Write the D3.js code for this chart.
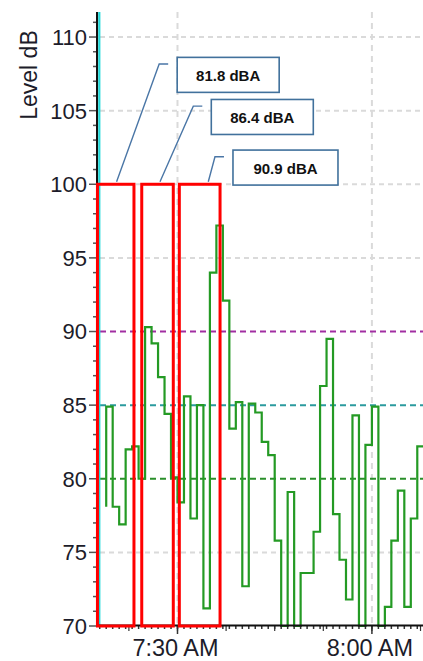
<!DOCTYPE html>
<html><head><meta charset="utf-8">
<script src="https://cdn.jsdelivr.net/npm/d3@7"></script>
<style>body{margin:0;background:#fff}svg{display:block}</style>
</head><body>
<script>
// ---- data ----
const times = ["7:19","7:20","7:21","7:22","7:23","7:24","7:25","7:26","7:27","7:28",
  "7:29","7:30","7:31","7:32","7:33","7:34","7:35","7:36","7:37","7:38",
  "7:39","7:40","7:41","7:42","7:43","7:44","7:45","7:46","7:47","7:48",
  "7:49","7:50","7:51","7:52","7:53","7:54","7:55","7:56","7:57","7:58",
  "7:59","8:00","8:01","8:02","8:03","8:04","8:05","8:06","8:07","8:08"];
const levels = [78.1,84.9,78.1,76.9,82.0,82.2,80.0,90.3,89.2,86.9,
  84.4,80.1,78.4,85.6,77.3,85.0,71.2,94.0,97.2,92.1,
  83.4,85.2,72.7,85.1,84.5,82.5,81.6,75.8,70.0,79.1,
  70.0,73.6,73.6,76.4,86.3,89.5,77.6,74.5,71.8,84.3,
  70.0,82.3,84.9,70.0,71.3,75.8,79.2,71.3,77.3,82.2];
const yTicks = [70,75,80,85,90,95,100,105,110];
const xTickTimes = ["7:30","8:00"];
const xTickLabels = ["7:30 AM","8:00 AM"];
const refLevels = [90,85,80];
const refColors = ["#a12ea1","#2b9a9e","#2a8f2a"];
const windowStarts = ["7:17:39","7:24:29","7:30:17"];
const windowEnds = ["7:23:17","7:29:21","7:36:34"];
const windowTop = 100, windowBottom = 70;
const avgLabels = ["81.8 dBA","86.4 dBA","90.9 dBA"];
const leaderAnchors = ["7:20:36","7:27:18","7:34:45"];

// ---- layout ----
const W = 423, H = 661;
const parse = s => { const p = s.split(":").map(Number); return new Date(2020,0,1,p[0],p[1],p[2]||0); };
const x = d3.scaleTime().domain([parse("7:17:44"), parse("8:07:53")]).range([98, 423]);
const y = d3.scaleLinear().domain([70, 111.7]).range([626, 12]);
const data = times.map((t,i) => ({t: parse(t), v: levels[i]}));

const svg = d3.select("body").append("svg").attr("width", W).attr("height", H);
svg.append("rect").attr("width", W).attr("height", H).attr("fill", "#fff");

svg.append("defs").append("clipPath").attr("id","plot")
  .append("rect").attr("x", 98).attr("y", 10).attr("width", W-98).attr("height", 618);

const grid = svg.append("g");
grid.selectAll("line.h").data(yTicks.filter(v => v > 70 && !refLevels.includes(v))).enter()
  .append("line").attr("x1", 100).attr("x2", W)
  .attr("y1", d => y(d)).attr("y2", d => y(d))
  .attr("stroke", "#dadada").attr("stroke-width", 2).attr("stroke-dasharray", "5,4");
grid.selectAll("line.v").data(xTickTimes).enter()
  .append("line").attr("x1", d => x(parse(d))).attr("x2", d => x(parse(d)))
  .attr("y1", 12).attr("y2", 626)
  .attr("stroke", "#dadada").attr("stroke-width", 2).attr("stroke-dasharray", "6,5");
grid.selectAll("line.r").data(refLevels).enter()
  .append("line").attr("x1", 100).attr("x2", W)
  .attr("y1", d => y(d)).attr("y2", d => y(d))
  .attr("stroke", (d,i) => refColors[i]).attr("stroke-width", 2).attr("stroke-dasharray", "6,4");

svg.append("path").datum(data)
  .attr("clip-path", "url(#plot)")
  .attr("d", d3.line().x(d => x(d.t)).y(d => y(d.v)).curve(d3.curveStepBefore))
  .attr("fill", "none").attr("stroke", "#249a24").attr("stroke-width", 2.2);

// ---- y axis ----
const ya = svg.append("g");
const minorY = d3.range(70, 112, 1);
ya.selectAll("line.m").data(minorY).enter().append("line")
  .attr("x1", d => d % 5 === 0 ? 89 : 93).attr("x2", 97)
  .attr("y1", d => y(d)).attr("y2", d => y(d))
  .attr("stroke", "#555").attr("stroke-width", 1.5);
ya.append("line").attr("x1", 97).attr("x2", 97).attr("y1", 12).attr("y2", 627)
  .attr("stroke", "#111").attr("stroke-width", 2);
ya.append("line").attr("x1", 99.3).attr("x2", 99.3).attr("y1", 12).attr("y2", 627)
  .attr("stroke", "#22d9d9").attr("stroke-width", 2.2);
ya.selectAll("text").data(yTicks).enter().append("text")
  .attr("x", 87).attr("y", d => y(d)).attr("dy", "0.36em")
  .attr("text-anchor", "end").attr("font-family", "Liberation Sans, Arial, sans-serif")
  .attr("font-size", 22).attr("fill", "#1c1c2a").text(d => d);
svg.append("text").attr("transform", "translate(37,75) rotate(-90)")
  .attr("text-anchor", "middle").attr("font-family", "Liberation Sans, Arial, sans-serif")
  .attr("font-size", 23).attr("fill", "#1c1c2a").text("Level dB");

// ---- x axis ----
const xa = svg.append("g");
const minuteTicks = x.ticks(d3.timeMinute.every(1));
xa.selectAll("line.mt").data(minuteTicks).enter().append("line")
  .attr("x1", d => x(d)).attr("x2", d => x(d)).attr("y1", 626).attr("y2", 629)
  .attr("stroke", "#333").attr("stroke-width", 1.5);
const minor75 = d3.range(-1, 6).map(k => new Date(parse("7:30").getTime() + k*7.5*60000));
xa.selectAll("line.m75").data(minor75).enter().append("line")
  .attr("x1", d => x(d)).attr("x2", d => x(d)).attr("y1", 626).attr("y2", 631)
  .attr("stroke", "#333").attr("stroke-width", 1.2);
xa.selectAll("line.mj").data(xTickTimes).enter().append("line")
  .attr("x1", d => x(parse(d))).attr("x2", d => x(parse(d))).attr("y1", 626).attr("y2", 634)
  .attr("stroke", "#333").attr("stroke-width", 1.5);
xa.append("line").attr("x1", 96).attr("x2", W).attr("y1", 625.5).attr("y2", 625.5)
  .attr("stroke", "#111").attr("stroke-width", 2);
xa.selectAll("text").data(xTickTimes).enter().append("text")
  .attr("x", d => x(parse(d)) - 2).attr("y", 655.5)
  .attr("text-anchor", "middle").attr("font-family", "Liberation Sans, Arial, sans-serif")
  .attr("font-size", 23.5).attr("fill", "#1c1c2a").text((d,i) => xTickLabels[i]);

// ---- averaging windows ----
svg.selectAll("rect.win").data(windowStarts).enter().append("rect")
  .attr("x", d => x(parse(d)))
  .attr("y", y(windowTop))
  .attr("width", (d,i) => x(parse(windowEnds[i])) - x(parse(d)))
  .attr("height", y(windowBottom) - y(windowTop))
  .attr("fill", "none").attr("stroke", "#ff0000").attr("stroke-width", 3);

// ---- callouts ----
const elbowOffsets = [[42.6,-117.7],[33.3,-75.6],[6.7,-25]];
const boxW = [102,102,105];
const callG = svg.append("g");
leaderAnchors.forEach((a,i) => {
  const ax = x(parse(a)), ay = y(windowTop) - 2.5;
  const ex = ax + elbowOffsets[i][0], ey = ay + elbowOffsets[i][1];
  callG.append("path")
    .attr("d", `M${ax},${ay}L${ex},${ey}L${ex+9},${ey}`)
    .attr("fill","none").attr("stroke","#4a76a6").attr("stroke-width",1.4);
  const bx = ex + 18, by = ey - 6.7;
  callG.append("rect").attr("x", bx).attr("y", by).attr("width", boxW[i]).attr("height", 35)
    .attr("fill","#fff").attr("stroke","#41719c").attr("stroke-width",1.6);
  callG.append("text").attr("x", bx + boxW[i]/2).attr("y", by + 18.5).attr("dy","0.36em")
    .attr("text-anchor","middle").attr("font-family","Liberation Sans, Arial, sans-serif")
    .attr("font-weight","bold").attr("font-size",15).attr("fill","#111").text(avgLabels[i]);
});
</script>
</body></html>
